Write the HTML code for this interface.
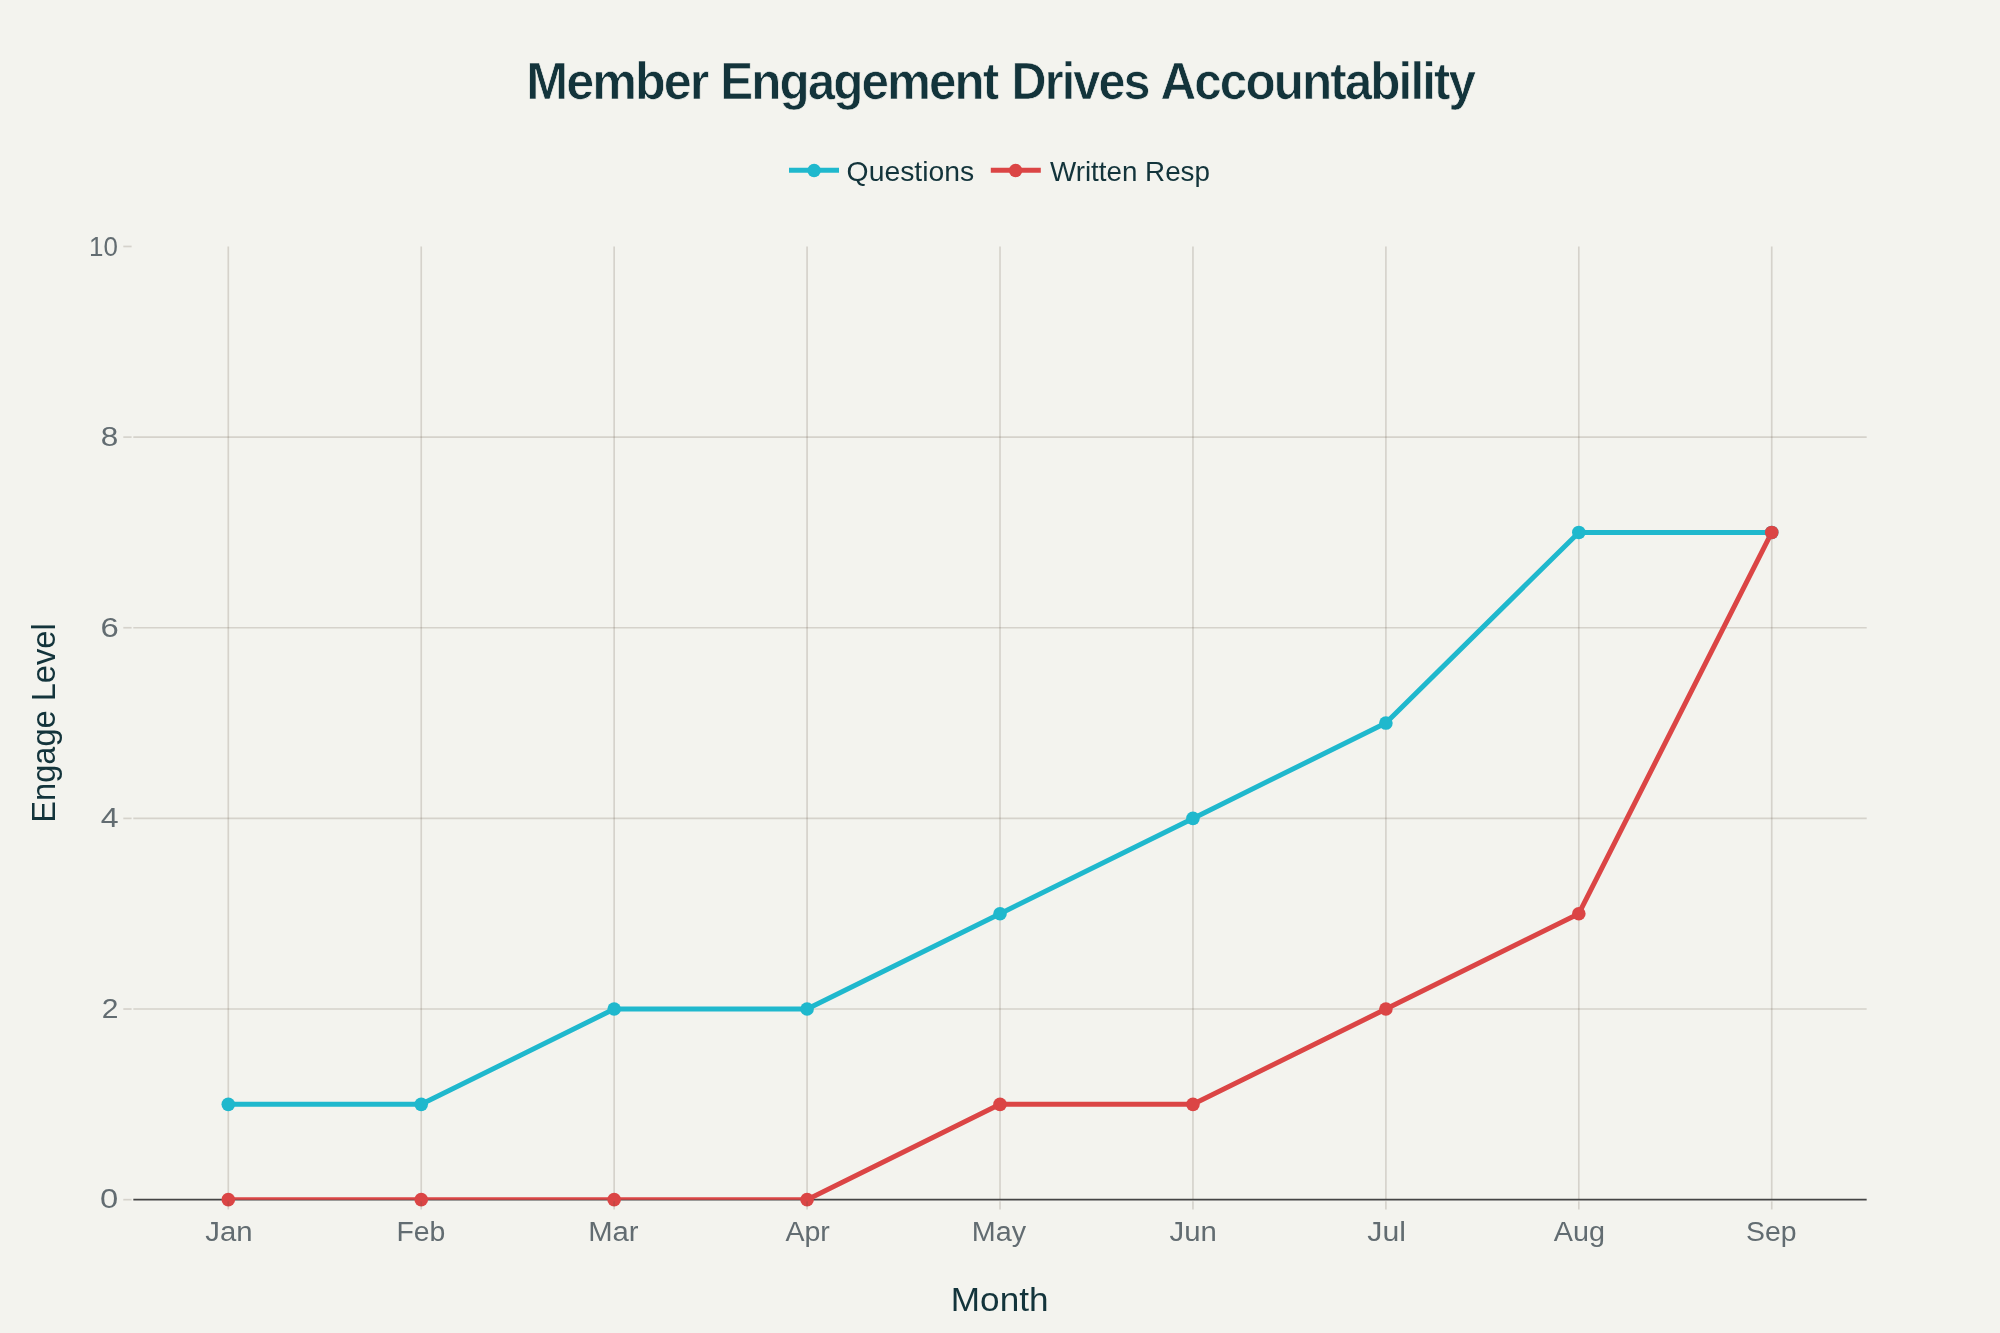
<!DOCTYPE html>
<html><head><meta charset="utf-8"><title>Member Engagement Drives Accountability</title>
<style>html,body{margin:0;padding:0;background:#F3F3EE;width:2000px;height:1333px;overflow:hidden}svg{display:block}#wrap{will-change:transform}</style>
</head><body><div id="wrap">
<svg width="2000" height="1333" viewBox="0 0 2000 1333" font-family='"Liberation Sans", Arial, sans-serif'>
<rect x="0" y="0" width="2000" height="1333" fill="#F3F3EE"/>
<g stroke="rgba(94,82,64,0.2)" stroke-width="1.67" fill="none"><line x1="228.30" y1="246.47" x2="228.30" y2="1199.67"/><line x1="421.23" y1="246.47" x2="421.23" y2="1199.67"/><line x1="614.16" y1="246.47" x2="614.16" y2="1199.67"/><line x1="807.09" y1="246.47" x2="807.09" y2="1199.67"/><line x1="1000.02" y1="246.47" x2="1000.02" y2="1199.67"/><line x1="1192.95" y1="246.47" x2="1192.95" y2="1199.67"/><line x1="1385.88" y1="246.47" x2="1385.88" y2="1199.67"/><line x1="1578.81" y1="246.47" x2="1578.81" y2="1199.67"/><line x1="1771.74" y1="246.47" x2="1771.74" y2="1199.67"/><line x1="133.33" y1="1009.03" x2="1866.67" y2="1009.03"/><line x1="133.33" y1="818.39" x2="1866.67" y2="818.39"/><line x1="133.33" y1="627.75" x2="1866.67" y2="627.75"/><line x1="133.33" y1="437.11" x2="1866.67" y2="437.11"/></g>
<g stroke="rgba(94,82,64,0.2)" stroke-width="1.67" fill="none"><line x1="123.3" y1="1199.67" x2="131.6" y2="1199.67"/><line x1="123.3" y1="1009.03" x2="131.6" y2="1009.03"/><line x1="123.3" y1="818.39" x2="131.6" y2="818.39"/><line x1="123.3" y1="627.75" x2="131.6" y2="627.75"/><line x1="123.3" y1="437.11" x2="131.6" y2="437.11"/><line x1="123.3" y1="246.47" x2="131.6" y2="246.47"/></g>
<line x1="133.33" y1="1199.67" x2="1866.67" y2="1199.67" stroke="#444" stroke-width="1.9"/>
<defs><clipPath id="pc"><rect x="133.33" y="246.47" width="1733.34" height="953.20"/></clipPath></defs>
<polyline clip-path="url(#pc)" points="228.30,1104.35 421.23,1104.35 614.16,1009.03 807.09,1009.03 1000.02,913.71 1192.95,818.39 1385.88,723.07 1578.81,532.43 1771.74,532.43" fill="none" stroke="#1FB8CD" stroke-width="5" stroke-linejoin="round"/>
<polyline clip-path="url(#pc)" points="228.30,1199.67 421.23,1199.67 614.16,1199.67 807.09,1199.67 1000.02,1104.35 1192.95,1104.35 1385.88,1009.03 1578.81,913.71 1771.74,532.43" fill="none" stroke="#DB4545" stroke-width="5" stroke-linejoin="round"/>
<g fill="#1FB8CD"><circle cx="228.30" cy="1104.35" r="6.8"/><circle cx="421.23" cy="1104.35" r="6.8"/><circle cx="614.16" cy="1009.03" r="6.8"/><circle cx="807.09" cy="1009.03" r="6.8"/><circle cx="1000.02" cy="913.71" r="6.8"/><circle cx="1192.95" cy="818.39" r="6.8"/><circle cx="1385.88" cy="723.07" r="6.8"/><circle cx="1578.81" cy="532.43" r="6.8"/><circle cx="1771.74" cy="532.43" r="6.8"/></g>
<g fill="#DB4545"><circle cx="228.30" cy="1199.67" r="6.8"/><circle cx="421.23" cy="1199.67" r="6.8"/><circle cx="614.16" cy="1199.67" r="6.8"/><circle cx="807.09" cy="1199.67" r="6.8"/><circle cx="1000.02" cy="1104.35" r="6.8"/><circle cx="1192.95" cy="1104.35" r="6.8"/><circle cx="1385.88" cy="1009.03" r="6.8"/><circle cx="1578.81" cy="913.71" r="6.8"/><circle cx="1771.74" cy="532.43" r="6.8"/></g>
<g stroke="rgba(94,82,64,0.2)" stroke-width="1.67" fill="none"><line x1="228.30" y1="1201.34" x2="228.30" y2="1209.47"/><line x1="421.23" y1="1201.34" x2="421.23" y2="1209.47"/><line x1="614.16" y1="1201.34" x2="614.16" y2="1209.47"/><line x1="807.09" y1="1201.34" x2="807.09" y2="1209.47"/><line x1="1000.02" y1="1201.34" x2="1000.02" y2="1209.47"/><line x1="1192.95" y1="1201.34" x2="1192.95" y2="1209.47"/><line x1="1385.88" y1="1201.34" x2="1385.88" y2="1209.47"/><line x1="1578.81" y1="1201.34" x2="1578.81" y2="1209.47"/><line x1="1771.74" y1="1201.34" x2="1771.74" y2="1209.47"/></g>
<line x1="789" y1="170.3" x2="839" y2="170.3" stroke="#1FB8CD" stroke-width="5"/><circle cx="814.1" cy="170.45" r="6.7" fill="#1FB8CD"/>
<line x1="990.8" y1="170.3" x2="1040.8" y2="170.3" stroke="#DB4545" stroke-width="5"/><circle cx="1015.6" cy="170.45" r="6.7" fill="#DB4545"/>
<text id="t_Member" x="526.29" y="99.00" font-size="51.6" font-weight="bold" fill="#13343B" letter-spacing="-2" stroke="#F3F3EE" stroke-width="0.7" textLength="181.05" lengthAdjust="spacingAndGlyphs">Member</text>
<text id="t_Engagement" x="720.24" y="99.00" font-size="51.6" font-weight="bold" fill="#13343B" letter-spacing="-2" stroke="#F3F3EE" stroke-width="0.7" textLength="277.14" lengthAdjust="spacingAndGlyphs">Engagement</text>
<text id="t_Drives" x="1011.61" y="99.00" font-size="51.6" font-weight="bold" fill="#13343B" letter-spacing="-2" stroke="#F3F3EE" stroke-width="0.7" textLength="137.05" lengthAdjust="spacingAndGlyphs">Drives</text>
<text id="t_Accountability" x="1160.50" y="99.00" font-size="51.6" font-weight="bold" fill="#13343B" letter-spacing="-2" stroke="#F3F3EE" stroke-width="0.7" textLength="313.65" lengthAdjust="spacingAndGlyphs">Accountability</text>
<text id="leg_q" x="846.62" y="181.20" font-size="27.6" fill="#13343B" textLength="127.52" lengthAdjust="spacingAndGlyphs">Questions</text>
<text id="leg_w" x="1049.93" y="181.20" font-size="27.6" fill="#13343B" textLength="160.04" lengthAdjust="spacingAndGlyphs">Written Resp</text>
<text id="month" x="999.66" y="1311.20" font-size="34" fill="#13343B" text-anchor="middle" textLength="97.66" lengthAdjust="spacingAndGlyphs">Month</text>
<text id="engage" transform="translate(55.30,723.00) rotate(-90)" x="0" y="0" font-size="34" fill="#13343B" text-anchor="middle" textLength="199.29" lengthAdjust="spacingAndGlyphs">Engage Level</text>
<text id="x_Jan" x="229.00" y="1241.00" font-size="27" fill="#626C71" text-anchor="middle" textLength="47.31" lengthAdjust="spacingAndGlyphs">Jan</text>
<text id="x_Feb" x="420.93" y="1241.00" font-size="27" fill="#626C71" text-anchor="middle" textLength="48.93" lengthAdjust="spacingAndGlyphs">Feb</text>
<text id="x_Mar" x="613.38" y="1241.00" font-size="27" fill="#626C71" text-anchor="middle" textLength="50.41" lengthAdjust="spacingAndGlyphs">Mar</text>
<text id="x_Apr" x="807.61" y="1241.00" font-size="27" fill="#626C71" text-anchor="middle" textLength="44.41" lengthAdjust="spacingAndGlyphs">Apr</text>
<text id="x_May" x="998.98" y="1241.00" font-size="27" fill="#626C71" text-anchor="middle" textLength="54.25" lengthAdjust="spacingAndGlyphs">May</text>
<text id="x_Jun" x="1193.18" y="1241.00" font-size="27" fill="#626C71" text-anchor="middle" textLength="47.31" lengthAdjust="spacingAndGlyphs">Jun</text>
<text id="x_Jul" x="1386.70" y="1241.00" font-size="27" fill="#626C71" text-anchor="middle" textLength="38.64" lengthAdjust="spacingAndGlyphs">Jul</text>
<text id="x_Aug" x="1579.39" y="1241.00" font-size="27" fill="#626C71" text-anchor="middle" textLength="51.13" lengthAdjust="spacingAndGlyphs">Aug</text>
<text id="x_Sep" x="1771.37" y="1240.66" font-size="27" fill="#626C71" text-anchor="middle" textLength="50.48" lengthAdjust="spacingAndGlyphs">Sep</text>
<text id="y_0" x="118.16" y="1208.17" font-size="27" fill="#626C71" text-anchor="end" textLength="18.21" lengthAdjust="spacingAndGlyphs">0</text>
<text id="y_2" x="118.42" y="1017.84" font-size="27" fill="#626C71" text-anchor="end" textLength="16.72" lengthAdjust="spacingAndGlyphs">2</text>
<text id="y_4" x="118.73" y="827.47" font-size="27" fill="#626C71" text-anchor="end" textLength="17.87" lengthAdjust="spacingAndGlyphs">4</text>
<text id="y_6" x="118.81" y="637.38" font-size="27" fill="#626C71" text-anchor="end" textLength="18.28" lengthAdjust="spacingAndGlyphs">6</text>
<text id="y_8" x="118.31" y="446.03" font-size="27" fill="#626C71" text-anchor="end" textLength="17.55" lengthAdjust="spacingAndGlyphs">8</text>
<text id="y_10" x="117.91" y="255.67" font-size="27" fill="#626C71" text-anchor="end" textLength="28.80" lengthAdjust="spacingAndGlyphs">10</text>
</svg>
</div></body></html>
